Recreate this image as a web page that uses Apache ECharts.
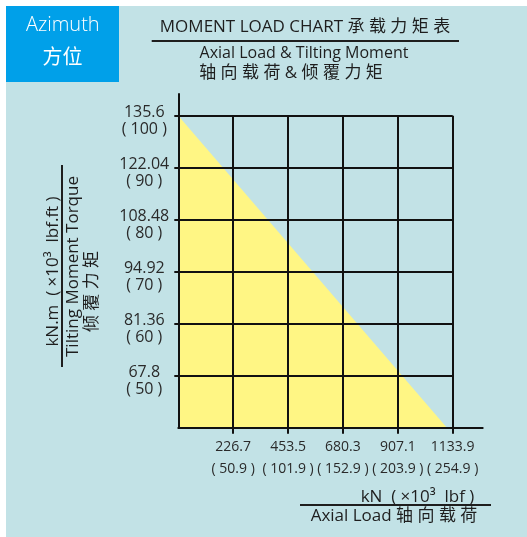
<!DOCTYPE html>
<html>
<head>
<meta charset="utf-8">
<script src="https://cdn.jsdelivr.net/npm/echarts@6/dist/echarts.min.js"></script>
<style>
  html, body { margin: 0; padding: 0; background: #ffffff; }
  /* the picture has a thin white strip on the left and top */
  #chart { position: absolute; left: 6px; top: 6px; width: 521px; height: 531px; }
</style>
</head>
<body>
<div id="chart"></div>
<script>
// tick values (metric) and their imperial equivalents shown in brackets
const xTicks = [226.7, 453.5, 680.3, 907.1, 1133.9];
const xTicksImperial = ["50.9", "101.9", "152.9", "203.9", "254.9"];
const yTicks = [67.8, 81.36, 94.92, 108.48, 122.04, 135.6];
const yTicksImperial = ["50", "60", "70", "80", "90", "100"];

// allowed load region: axial load (kN) vs tilting moment (kN.m)
const limitLoad = [0, 1110];
const limitMoment = [135.6, 54.24];

const FONT = "'Open Sans', 'Noto Sans CJK SC', sans-serif";
const INK = "#1e1e1e";

function nearestIndex(arr, v) {
  let best = 0;
  arr.forEach((a, i) => { if (Math.abs(a - v) < Math.abs(arr[best] - v)) best = i; });
  return best;
}

const chart = echarts.init(document.getElementById("chart"));

const option = {
  backgroundColor: "#c2e2e6",
  animation: false,
  grid: [
    // the load chart itself
    { left: 172.3, top: 109.7, width: 274.4, height: 312 },
    // only used for the longer axis lines that stick out of the chart
    { left: 172.3, top: 88, width: 304.4, height: 333.7 }
  ],
  xAxis: [
    {
      type: "value",
      gridIndex: 0,
      min: 0,
      max: 1133.9,
      interval: 226.78,
      z: 3,
      axisLine: { show: false },
      axisTick: {
        show: true,
        length: 6,
        customValues: xTicks,
        lineStyle: { color: "#111", width: 2 }
      },
      splitLine: { show: true, lineStyle: { color: "#111", width: 2 } },
      axisLabel: {
        customValues: xTicks,
        margin: 8,
        fontFamily: FONT,
        fontSize: 14,
        lineHeight: 22,
        color: "#2a2a2a",
        formatter: (v) => {
          const i = nearestIndex(xTicks, v);
          return xTicks[i] + "\n( " + xTicksImperial[i] + " )";
        }
      }
    },
    {
      type: "value",
      gridIndex: 1,
      min: 0,
      max: 1,
      z: 3,
      axisLine: { show: true, lineStyle: { color: "#111", width: 2 } },
      axisTick: { show: false },
      axisLabel: { show: false },
      splitLine: { show: false }
    }
  ],
  yAxis: [
    {
      type: "value",
      gridIndex: 0,
      min: 54.24,
      max: 135.6,
      interval: 13.56,
      z: 3,
      axisLine: { show: false },
      axisTick: {
        show: true,
        length: 4,
        customValues: yTicks,
        lineStyle: { color: "#111", width: 2 }
      },
      splitLine: { show: true, lineStyle: { color: "#111", width: 2 } },
      axisLabel: {
        customValues: yTicks,
        margin: 34,
        align: "center",
        verticalAlign: "middle",
        color: "#2a2a2a",
        // uneven line heights push the two-line label a little below the tick
        rich: {
          a: { fontFamily: FONT, fontSize: 16, lineHeight: 28, color: "#2a2a2a", align: "center" },
          b: { fontFamily: FONT, fontSize: 16, lineHeight: 6, color: "#2a2a2a", align: "center" }
        },
        formatter: (v) => {
          const i = nearestIndex(yTicks, v);
          return "{a|" + yTicks[i] + "}\n{b|( " + yTicksImperial[i] + " )}";
        }
      }
    },
    {
      type: "value",
      gridIndex: 1,
      min: 0,
      max: 1,
      z: 3,
      axisLine: { show: true, lineStyle: { color: "#111", width: 2 } },
      axisTick: { show: false },
      axisLabel: { show: false },
      splitLine: { show: false }
    }
  ],
  series: [
    {
      type: "line",
      xAxisIndex: 0,
      yAxisIndex: 0,
      z: 1,
      symbol: "none",
      silent: true,
      data: limitLoad.map((x, i) => [x, limitMoment[i]]),
      lineStyle: { width: 0, color: "#fff684" },
      areaStyle: { color: "#fff684", opacity: 1, origin: "start" }
    }
  ],
  graphic: [
    // corner badge
    { type: "rect", shape: { x: 0, y: 0, width: 113, height: 76 }, style: { fill: "#00a0e9" } },
    { type: "text", x: 56.8, y: 19, style: { text: "Azimuth", fill: "#fff", font: "300 20px " + FONT, align: "center", verticalAlign: "middle" } },
    { type: "text", x: 56.5, y: 52.5, style: { text: "方位", fill: "#fff", font: "20px " + FONT, align: "center", verticalAlign: "middle" } },

    // heading
    { type: "text", x: 299, y: 21, style: { text: "MOMENT LOAD CHART 承 载 力 矩 表", fill: INK, font: "17px " + FONT, align: "center", verticalAlign: "middle" } },
    { type: "line", shape: { x1: 145.7, y1: 35, x2: 453, y2: 35 }, style: { stroke: INK, lineWidth: 2 } },
    { type: "text", x: 298, y: 47.3, style: { text: "Axial Load & Tilting Moment", fill: INK, font: "16px " + FONT, align: "center", verticalAlign: "middle" } },
    { type: "text", x: 285, y: 66.7, style: { text: "轴 向 载 荷 & 倾 覆 力 矩", fill: INK, font: "17px " + FONT, align: "center", verticalAlign: "middle" } },

    // y axis title
    { type: "text", x: 47, y: 265.5, rotation: Math.PI / 2, style: { text: "kN.m  ( ×10³  lbf.ft )", fill: INK, font: "17px " + FONT, align: "center", verticalAlign: "middle" } },
    { type: "line", shape: { x1: 56, y1: 159, x2: 56, y2: 361 }, style: { stroke: INK, lineWidth: 2 } },
    { type: "text", x: 67, y: 260.5, rotation: Math.PI / 2, style: { text: "Tilting Moment Torque", fill: INK, font: "17px " + FONT, align: "center", verticalAlign: "middle" } },
    { type: "text", x: 86, y: 285.5, rotation: Math.PI / 2, style: { text: "倾 覆 力 矩", fill: INK, font: "17px " + FONT, align: "center", verticalAlign: "middle" } },

    // x axis title
    { type: "text", x: 411.5, y: 491, style: { text: "kN  ( ×10³  lbf )", fill: INK, font: "17px " + FONT, align: "center", verticalAlign: "middle" } },
    { type: "line", shape: { x1: 294, y1: 499, x2: 485, y2: 499 }, style: { stroke: INK, lineWidth: 2 } },
    { type: "text", x: 388, y: 510.5, style: { text: "Axial Load 轴 向 载 荷", fill: INK, font: "17px " + FONT, align: "center", verticalAlign: "middle" } }
  ]
};

chart.setOption(option);
window.addEventListener("resize", () => chart.resize());
</script>
</body>
</html>
